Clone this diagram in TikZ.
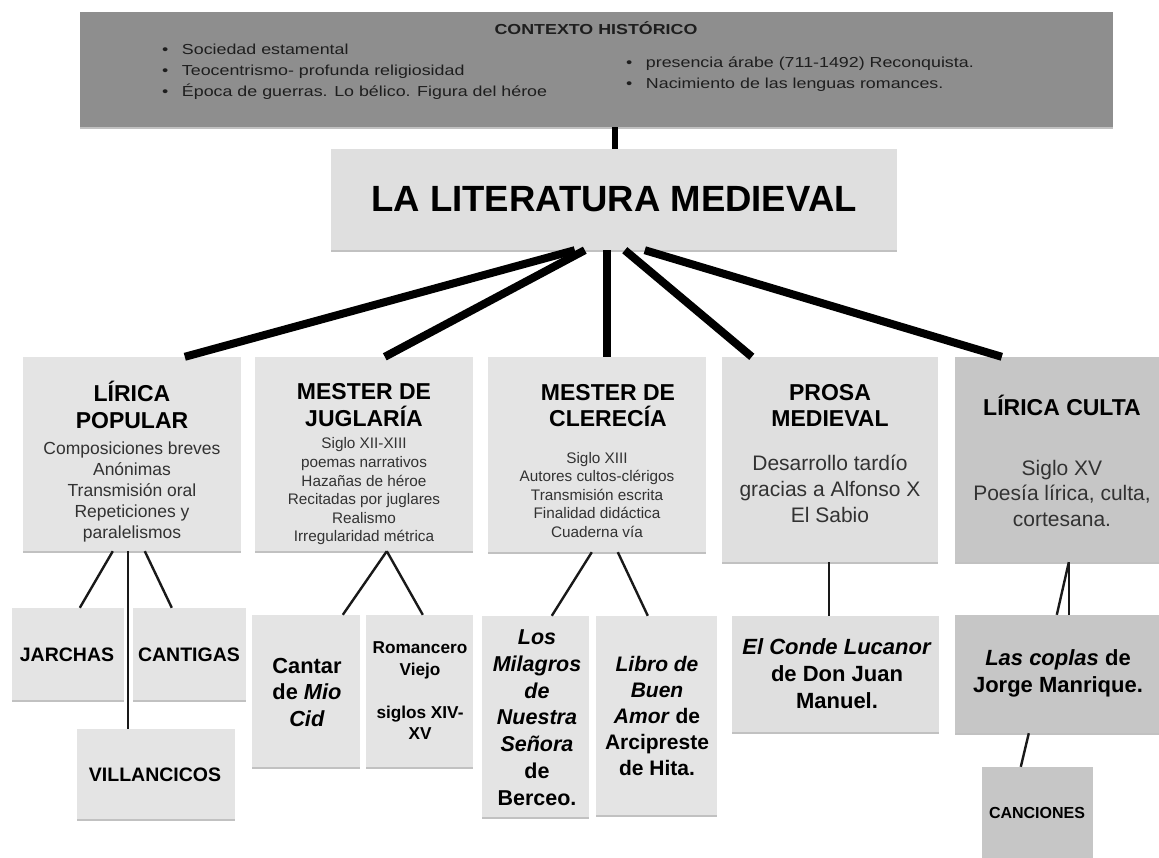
\documentclass[tikz,border=0pt]{standalone}
\usepackage{fontspec}
\setmainfont{Liberation Sans}
\usetikzlibrary{shadows,calc}
\definecolor{ctxgray}{RGB}{142,142,142}
\definecolor{boxlight}{RGB}{228,228,228}
\definecolor{boxmid}{RGB}{223,223,223}
\definecolor{boxdark}{RGB}{198,198,198}
\definecolor{txtdark}{RGB}{30,30,30}
\definecolor{txtbody}{RGB}{50,50,50}
\newcommand{\fsz}[2]{\fontsize{#1}{#2}\selectfont}
\begin{document}
\begin{tikzpicture}[x=1pt,y=-1pt,
  box/.style={draw=none, fill=boxlight, inner sep=0pt,
    drop shadow={shadow xshift=0pt, shadow yshift=-2pt, opacity=0.35, fill=black!70}},
  fan/.style={line width=8pt, black},
  topline/.style={line width=6pt, black},
  thin/.style={line width=2.4pt, black!90},
  ttl/.style={align=center, inner sep=0pt, font=\fsz{23}{26.5}\bfseries, text=black},
  bod/.style={align=center, inner sep=0pt, text=txtbody},
  leaf/.style={align=center, inner sep=0pt, text=black, font=\bfseries}]
\useasboundingbox (0,0) rectangle (1159,857);

% ---------- boxes ----------
\node[box, fill=ctxgray, minimum width=1033pt, minimum height=115pt] (ctx) at (596.5,69.5) {};
\node[box, fill=boxmid, minimum width=566pt, minimum height=101pt,
      font=\fsz{36.5}{40}\bfseries] (main) at (614,199.5) {LA LITERATURA MEDIEVAL};

\node[box, minimum width=218pt, minimum height=194pt] (lp) at (132,454) {};
\node[box, minimum width=218pt, minimum height=194pt] (mj) at (364,454) {};
\node[box, minimum width=218pt, minimum height=195pt] (mc) at (597,454.5) {};
\node[box, fill=boxmid, minimum width=216pt, minimum height=205pt] (pm) at (830,459.5) {};
\node[box, fill=boxdark, minimum width=212pt, minimum height=205pt] (lc) at (1061,459.5) {};

\node[box, minimum width=112pt, minimum height=92pt] (ja) at (68,654) {};
\node[box, minimum width=113pt, minimum height=92pt] (ca) at (189.5,654) {};
\node[box, minimum width=158pt, minimum height=90pt] (vi) at (156,774) {};
\node[box, minimum width=108pt, minimum height=152pt] (cid) at (306,691) {};
\node[box, minimum width=107pt, minimum height=152pt] (rom) at (419.5,691) {};
\node[box, minimum width=107pt, minimum height=201pt] (mil) at (535.5,716.5) {};
\node[box, minimum width=121pt, minimum height=199pt] (lib) at (656.5,715.5) {};
\node[box, fill=boxmid, minimum width=207pt, minimum height=116pt] (con) at (835.5,674) {};
\node[box, fill=boxdark, minimum width=212pt, minimum height=118pt] (cop) at (1061,674) {};
\node[box, fill=boxdark, minimum width=111pt, minimum height=103pt] (can) at (1037.5,818.5) {};

% ---------- connectors ----------
\draw[topline] ($(ctx.south west)+(535,0)$) -- ($(main.north west)+(284,0)$);
\draw[fan] ($(main.south west)+(244,0)$) -- ($(lp.north west)+(162,0)$);
\draw[fan] ($(main.south west)+(254,0)$) -- ($(mj.north west)+(130,0)$);
\draw[fan] ($(main.south west)+(276,0)$) -- ($(mc.north west)+(119,0)$);
\draw[fan] ($(main.south west)+(294,0)$) -- ($(pm.north west)+(30,0)$);
\draw[fan] ($(main.south west)+(314,0)$) -- ($(lc.north west)+(47,0)$);

\draw[thin] ($(lp.south west)+(90,0)$) -- ($(ja.north west)+(68,0)$);
\draw[thin] ($(lp.south west)+(105,0)$) -- ($(vi.north west)+(51,0)$);
\draw[thin] ($(lp.south west)+(122,0)$) -- ($(ca.north west)+(39,0)$);
\draw[thin] ($(mj.south west)+(132,0)$) -- ($(cid.north west)+(91,0)$);
\draw[thin] ($(mj.south west)+(132,0)$) -- ($(rom.north west)+(57,0)$);
\draw[thin] ($(mc.south west)+(104,0)$) -- ($(mil.north west)+(70,0)$);
\draw[thin] ($(mc.south west)+(130,0)$) -- ($(lib.north west)+(52,0)$);
\draw[thin] ($(pm.south west)+(107,0)$) -- ($(con.north west)+(97,0)$);
\draw[thin] ($(lc.south west)+(114,0)$) -- ($(cop.north west)+(114,0)$);
\draw[thin] ($(lc.south west)+(114,0)$) -- ($(cop.north west)+(102,0)$);
\draw[thin] ($(cop.south west)+(74,0)$) -- ($(can.north west)+(39,0)$);

% ---------- texts: context ----------
\node[inner sep=0pt, text=txtdark, font=\fsz{14.5}{21}\bfseries] (ctxT) at (596,28)
  {\scalebox{1.23}[1]{CONTEXTO HISTÓRICO}};
\node[anchor=base west, inner sep=0pt, text=txtdark, font=\fsz{14.5}{21}] (ctxL) at (162,54.5)
  {\scalebox{1.23}[1]{\begin{tabular}[t]{@{}l@{}}
   •\hspace{11pt}Sociedad estamental\\
   •\hspace{11pt}Teocentrismo- profunda religiosidad\\
   •\hspace{11pt}Época de guerras. Lo bélico. Figura del héroe
   \end{tabular}}};
\node[anchor=base west, inner sep=0pt, text=txtdark, font=\fsz{14.5}{21}] (ctxR) at (626,67.5)
  {\scalebox{1.23}[1]{\begin{tabular}[t]{@{}l@{}}
   •\hspace{11pt}presencia árabe (711-1492) Reconquista.\\
   •\hspace{11pt}Nacimiento de las lenguas romances.
   \end{tabular}}};

% ---------- texts: columns ----------
\node[ttl] (lpT) at (132,405) {LÍRICA\\POPULAR};
\node[bod, font=\fsz{17.5}{21}] (lpB) at (132,491.5)
  {Composiciones breves\\Anónimas\\Transmisión oral\\Repeticiones y\\paralelismos};

\node[ttl] (mjT) at (364,405) {MESTER DE\\JUGLARÍA};
\node[bod, font=\fsz{15.3}{18.6}] (mjB) at (364,491.5)
  {Siglo XII-XIII\\poemas narrativos\\Hazañas de héroe\\Recitadas por juglares\\Realismo\\Irregularidad métrica};

\node[ttl] (mcT) at (608,405.5) {MESTER DE\\CLERECÍA};
\node[bod, font=\fsz{15.3}{18.5}] (mcB) at (597,495)
  {Siglo XIII\\Autores cultos-clérigos\\Transmisión escrita\\Finalidad didáctica\\Cuaderna vía};

\node[ttl] (pmT) at (830,405.5) {PROSA\\MEDIEVAL};
\node[bod, font=\fsz{21}{26}] (pmB) at (830,489)
  {Desarrollo tardío\\gracias a Alfonso X\\El Sabio};

\node[ttl] (lcT) at (1062,405) {LÍRICA CULTA};
\node[bod, font=\fsz{21}{25.5}] (lcB) at (1062,493)
  {Siglo XV\\Poesía lírica, culta,\\cortesana.};

% ---------- texts: leaves ----------
\node[leaf, font=\fsz{19.5}{23}\bfseries] (jaT) at (67,655) {JARCHAS};
\node[leaf, font=\fsz{19.5}{23}\bfseries] (caT) at (189,655) {CANTIGAS};
\node[leaf, font=\fsz{19.5}{23}\bfseries] (viT) at (155,775) {VILLANCICOS};
\node[leaf, font=\fsz{21.8}{26.5}\bfseries] (cidT) at (307,692)
  {Cantar\\de \textit{Mio}\\\textit{Cid}};
\node[leaf, font=\fsz{17.2}{21.5}\bfseries] (romT) at (420,691)
  {Romancero\\Viejo\\\mbox{}\\siglos XIV-\\XV};
\node[leaf, font=\fsz{21.5}{26.8}\bfseries] (milT) at (537,717.5)
  {\textit{Los}\\\textit{Milagros}\\\textit{de}\\\textit{Nuestra}\\\textit{Señora}\\de\\Berceo.};
\node[leaf, font=\fsz{21}{26}\bfseries] (libT) at (657,715.5)
  {\textit{Libro de}\\\textit{Buen}\\\textit{Amor} de\\Arcipreste\\de Hita.};
\node[leaf, font=\fsz{22}{27}\bfseries] (conT) at (837,674)
  {\textit{El Conde Lucanor}\\de Don Juan\\Manuel.};
\node[leaf, font=\fsz{22}{27}\bfseries] (copT) at (1058,673.5)
  {\textit{Las coplas} de\\Jorge Manrique.};
\node[leaf, font=\fsz{16}{19}\bfseries] (canT) at (1037,813) {CANCIONES};
\end{tikzpicture}
\end{document}
